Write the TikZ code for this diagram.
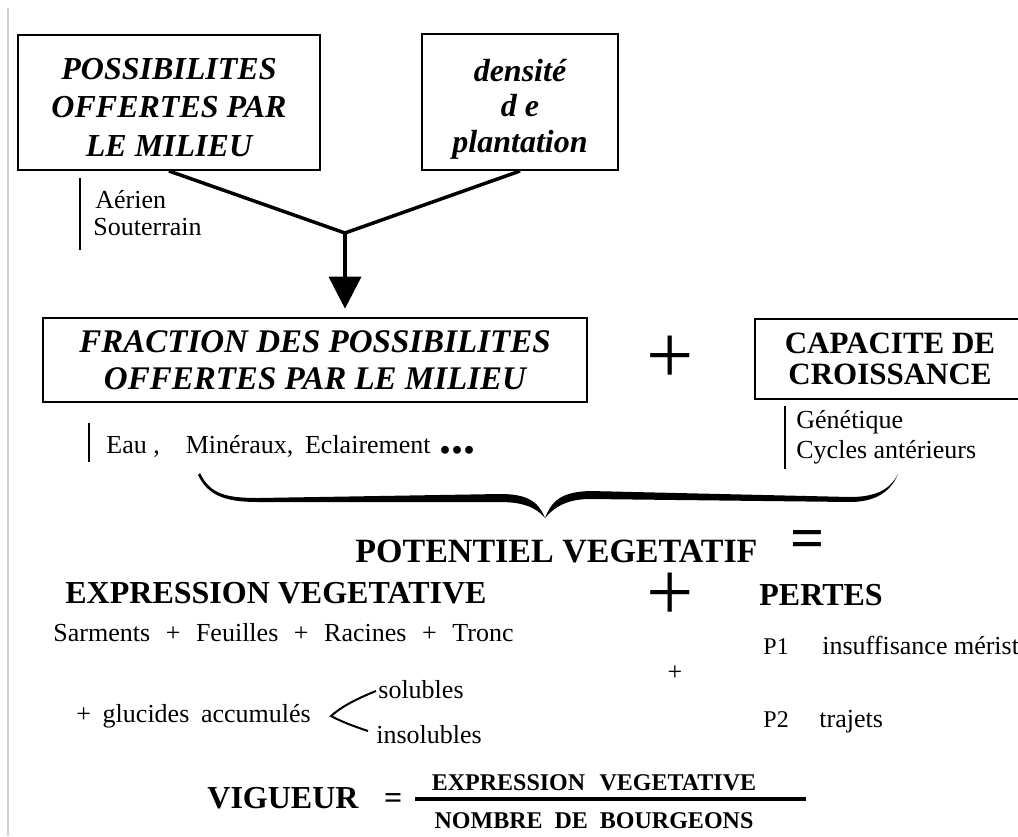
\documentclass[tikz,border=0pt]{standalone}
\usepackage{fontspec}
\setmainfont{Liberation Serif}
\usepackage{tikz}
\usetikzlibrary{arrows.meta,positioning}
\tikzstyle{cadre} = [rectangle, draw, line width=1pt, align=center, inner sep=0pt]
\tikzstyle{titre} = [font=\fontsize{16}{19.25}\selectfont\bfseries\itshape]
\tikzstyle{gras} = [font=\fontsize{16}{16}\selectfont\bfseries, inner sep=0pt, anchor=base west]
\tikzstyle{texte} = [font=\fontsize{13}{15}\selectfont, inner sep=0pt, anchor=base west]
\tikzstyle{signe} = [font=\fontsize{42}{42}\selectfont, inner sep=0pt]
\tikzstyle{trait} = [line width=1.75pt]
\tikzstyle{fleche} = [line width=1.75pt, -{Triangle[width=16pt,length=16pt]}, shorten >=4pt]
\tikzstyle{barre} = [line width=1pt]
\newcommand{\espaces}[1]{\spaceskip=#1\relax}

\begin{document}
\begin{tikzpicture}[x=0.5pt, y=-0.5pt]
  \useasboundingbox (0,0) rectangle (1018,836);
  \clip (0,0) rectangle (1018,836);
  \draw [gray!35, line width=0.6pt] (8,8) -- (8,836);
  % top boxes
  \node (milieu) [cadre, titre, minimum width=151pt, minimum height=67.5pt] at (169,102.5) {\rule{0pt}{15.5pt}POSSIBILITES\\OFFERTES PAR\\LE MILIEU};
  \node (densite) [cadre, titre, font=\fontsize{16}{17.75}\selectfont\bfseries\itshape, minimum width=98pt, minimum height=68pt] at (520,102) {\rule{0pt}{18pt}densité\\d e\\plantation};
  \coordinate (noeud) at (345,233);
  \draw [trait] (milieu.south) -- (noeud);
  \draw [trait] (densite.south) -- (noeud);
  \draw [barre] (80,178) -- (80,250);
  \node (aerien) [texte] at (95,208) {Aérien};
  \node (souterrain) [texte] at (93,235) {Souterrain};
  % middle boxes
  \node (fraction) [cadre, line width=1.3pt, font=\fontsize{16.5}{18.5}\selectfont\bfseries\itshape, minimum width=272pt, minimum height=42pt] at (315,360) {FRACTION DES POSSIBILITES\\OFFERTES PAR LE MILIEU};
  \draw [fleche] (noeud) -- (noeud |- fraction.north);
  \node (plus-1) [signe] at (670,360) {+};
  \node (capacite) [cadre, font=\fontsize{15.5}{15.5}\selectfont\bfseries, minimum width=135pt, minimum height=40pt] at (890,359) {CAPACITE DE\\CROISSANCE};
  \draw [barre] (89,423) -- (89,462);
  \node (eau) [texte] at (106,453) {\espaces{0.45em}Eau\hspace{0.25em},\hspace{1em}Minéraux, Eclairement\hspace{0.35em}{\fontsize{24}{24}\selectfont\bfseries ...}};
  \draw [barre] (785,406) -- (785,469);
  \node (genetique) [texte] at (796,428) {Génétique};
  \node (cycles) [texte] at (796,458) {Cycles antérieurs};
  % brace
  \fill (200,473) .. controls (210,494) and (226,498) .. (258,498) -- (500,494) .. controls (525,494) and (538,500) .. (545,518)
        .. controls (536,507) and (522,502) .. (500,502) -- (258,502) .. controls (224,502) and (208,495) .. (198,475) -- cycle;
  \fill (545,518) .. controls (552,500) and (562,492) .. (590,491) -- (850,497) .. controls (875,497) and (890,490) .. (898,474)
        .. controls (890,494) and (872,502) .. (850,502) -- (590,499) .. controls (570,499) and (556,505) .. (545,518) -- cycle;
  % lower part
  \node (potentiel) [gras, font=\fontsize{17}{17}\selectfont\bfseries] at (355,562) {POTENTIEL VEGETATIF};
  \node (egal) [signe, font=\fontsize{30}{30}\selectfont\bfseries] at (808,544) {=};
  \node (expression) [gras] at (65,603) {EXPRESSION VEGETATIVE};
  \node (plus-2) [signe] at (670,597) {+};
  \node (pertes) [gras] at (759,605) {PERTES};
  \node (sarments) [texte] at (53,641) {\espaces{0.6em}Sarments + Feuilles + Racines + Tronc};
  \node (p1) [texte, font=\fontsize{12}{14}\selectfont] at (763,654) {P1};
  \node (insuffisance) [texte] at (822,654) {insuffisance mérist};
  \node (plus-3) [texte, anchor=center] at (675,673) {+};
  \node (glucides) [texte] at (76,722) {\espaces{0.45em}+ glucides accumulés};
  \draw [barre] (376,691) .. controls (356,699) and (341,707) .. (331,716) .. controls (342,722) and (356,727) .. (368,731);
  \node (solubles) [texte] at (378,698) {solubles};
  \node (insolubles) [texte] at (376,743) {insolubles};
  \node (p2) [texte, font=\fontsize{12}{14}\selectfont] at (763,727) {P2};
  \node (trajets) [texte] at (819,727) {trajets};
  % vigueur
  \node (vigueur) [gras] at (207,808) {VIGUEUR\hspace{0.8em}=};
  \node (numerateur) [gras, font=\fontsize{12}{12}\selectfont\bfseries, anchor=base] at (594,790) {\espaces{0.6em}EXPRESSION VEGETATIVE};
  \node (denominateur) [gras, font=\fontsize{12}{12}\selectfont\bfseries, anchor=base] at (594,828) {\espaces{0.5em}NOMBRE DE BOURGEONS};
  \draw [line width=1.6pt] (415,799) -- (806,799);
\end{tikzpicture}
\end{document}
